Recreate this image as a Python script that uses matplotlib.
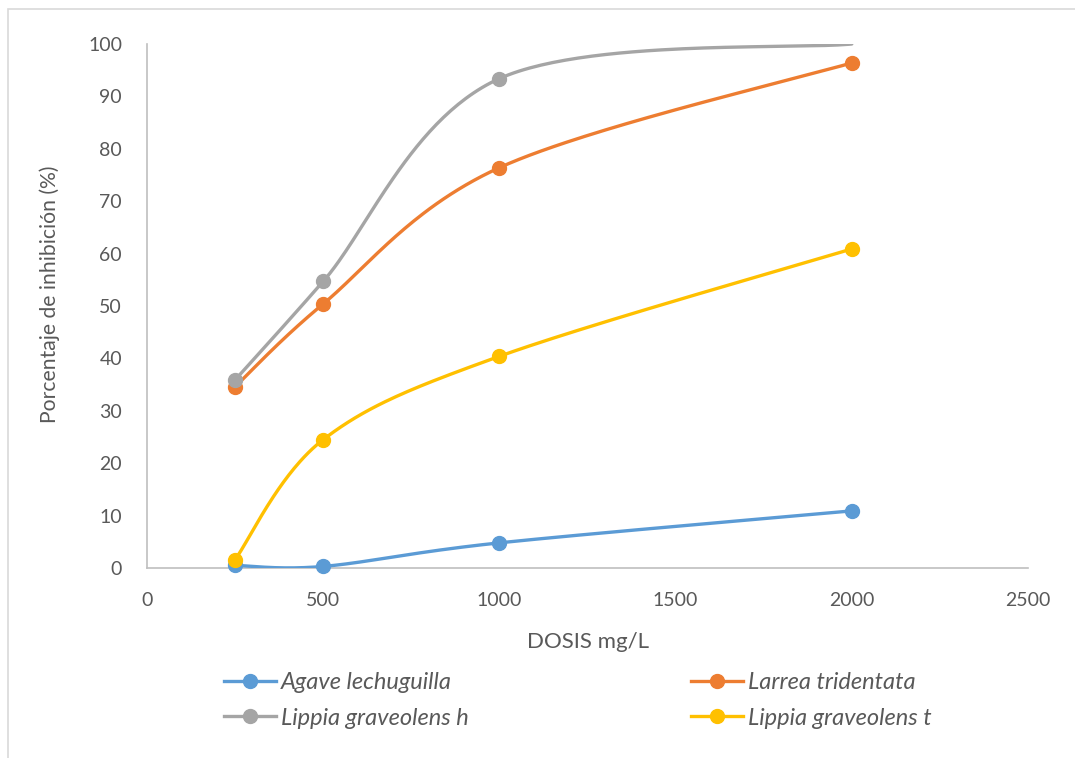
import numpy as np
import matplotlib
matplotlib.use("Agg")
import matplotlib.pyplot as plt
from matplotlib.patches import Rectangle

plt.rcParams['font.family'] = ['Lato', 'DejaVu Sans']

# Doses (mg/L) and inhibition percentages
dosis = [250, 500, 1000, 2000]
agave = [0.5, 0.3, 4.8, 10.9]
larrea = [34.6, 50.4, 76.4, 96.4]
lippia_h = [35.9, 54.7, 93.4, 100.0]
lippia_t = [1.6, 24.5, 40.4, 60.9]

series_names = ["Agave lechuguilla", "Larrea tridentata",
                "Lippia graveolens h", "Lippia graveolens t"]
colors = ["#5B9BD5", "#ED7D31", "#A5A5A5", "#FFC000"]

x_ticks = [0, 500, 1000, 1500, 2000, 2500]
y_ticks = [0, 10, 20, 30, 40, 50, 60, 70, 80, 90, 100]

TEXT = "#595959"
AXIS = "#BFBFBF"


def smooth(xs, ys, n=60):
    """Cubic Bezier smoothing through every point (Catmull-Rom style, tension 1/6)."""
    P = np.column_stack([xs, ys]).astype(float)
    ext = np.vstack([P[0], P, P[-1]])
    out = [P[0]]
    t = np.linspace(0, 1, n)[1:, None]
    for i in range(len(P) - 1):
        p0, p1 = ext[i + 1], ext[i + 2]
        c1 = p0 + (ext[i + 2] - ext[i]) / 6.0
        c2 = p1 - (ext[i + 3] - ext[i + 1]) / 6.0
        seg = ((1 - t) ** 3) * p0 + 3 * ((1 - t) ** 2) * t * c1 \
            + 3 * (1 - t) * t ** 2 * c2 + t ** 3 * p1
        out.extend(seg)
    out = np.array(out)
    return out[:, 0], out[:, 1]


fig = plt.figure(figsize=(10.75, 7.58), dpi=100)
fig.patch.set_facecolor("white")

# outer chart frame
fig.add_artist(Rectangle((7.5 / 1075, -0.05), 1.2, 1 - 9.5 / 758 + 0.05,
                         transform=fig.transFigure, fill=False,
                         edgecolor="#D9D9D9", linewidth=1.2))

ax = fig.add_axes([147 / 1075, 1 - 568 / 758, (1028 - 147) / 1075, (568 - 44) / 758])

all_series = [agave, larrea, lippia_h, lippia_t]
handles = []
for name, vals, col in zip(series_names, all_series, colors):
    sx, sy = smooth(dosis, vals)
    ax.plot(sx, sy, color=col, lw=2.4, solid_capstyle="round", zorder=3)
    pts_x = [x for x, v in zip(dosis, vals) if v < 100]
    pts_y = [v for v in vals if v < 100]
    ax.plot(pts_x, pts_y, "o", color=col, ms=10, zorder=4, clip_on=False)
    h, = ax.plot([], [], color=col, lw=2.4, marker="o", ms=10, label=name)
    handles.append(h)

ax.set_xlim(0, 2500)
ax.set_ylim(0, 100)
ax.set_xticks(x_ticks)
ax.set_yticks(y_ticks)
ax.tick_params(length=0, labelsize=14, colors=TEXT)
ax.tick_params(axis="y", pad=18)
ax.tick_params(axis="x", pad=17)
for s in ["top", "right"]:
    ax.spines[s].set_visible(False)
for s in ["left", "bottom"]:
    ax.spines[s].set_color(AXIS)
    ax.spines[s].set_linewidth(1.2)

fig.text(50 / 1075, 1 - 294 / 758, "Porcentaje de inhibición (%)", rotation=90,
         ha="center", va="center", fontsize=15.2, color=TEXT)
fig.text(588 / 1075, 1 - 642 / 758, "DOSIS mg/L", ha="center", va="center",
         fontsize=16, color=TEXT)

leg_kw = dict(frameon=False, handlelength=2.2, handletextpad=0.2,
              labelspacing=0.62, borderpad=0, borderaxespad=0, loc="upper left",
              prop={"style": "italic", "size": 17})
l1 = fig.legend([handles[0], handles[2]], [series_names[0], series_names[2]],
                bbox_to_anchor=(224 / 1075, 1 - 672 / 758), **leg_kw)
for t in l1.get_texts():
    t.set_color(TEXT)
l2 = fig.legend([handles[1], handles[3]], [series_names[1], series_names[3]],
                bbox_to_anchor=(691 / 1075, 1 - 672 / 758), **leg_kw)
for t in l2.get_texts():
    t.set_color(TEXT)

fig.savefig("out.png", dpi=100, facecolor="white")
